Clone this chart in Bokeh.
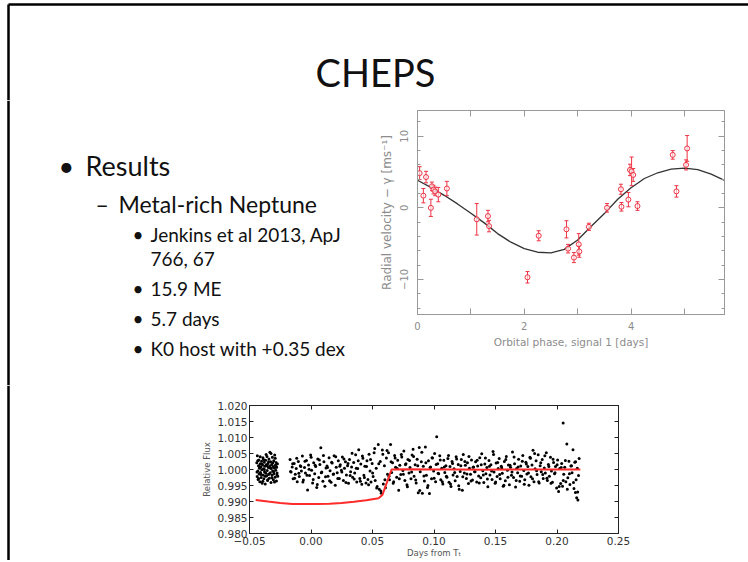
from bokeh.plotting import figure
from bokeh.layouts import column, row
from bokeh.models import Range1d, FixedTicker, LinearAxis, PrintfTickFormatter
from bokeh.core.properties import value
from bokeh.embed import file_html
from bokeh.resources import INLINE

# ---------------- slide text ----------------
slide_title = "CHEPS"
level1 = ["Results"]
level2 = ["Metal-rich Neptune"]
level3 = ["Jenkins et al 2013, ApJ", "766, 67", "15.9 ME", "5.7 days", "K0 host with +0.35 dex"]
level3_bullet = [True, False, True, True, True]

# ---------------- radial velocity data ----------------
rv_phase = [0.04, 0.16, 0.11, 0.25, 0.27, 0.30, 0.33, 0.39, 0.55, 1.11, 1.32, 1.34, 2.06, 2.27, 2.79, 2.82,
            2.93, 3.02, 3.03, 3.21, 3.55, 3.81, 3.82, 3.95, 3.98, 4.01, 4.04, 4.12, 4.78, 4.85, 5.03, 5.05]
rv_vel = [4.85, 4.3, 1.7, 0.0, 3.0, 2.55, 2.3, 1.85, 2.7, -1.6, -1.15, -2.55, -9.7, -3.9, -3.0, -5.7,
          -6.95, -5.1, -6.1, -2.65, 0.0, 2.6, 0.15, 1.15, 5.3, 5.1, 4.6, 0.25, 7.4, 2.3, 6.0, 8.3]
rv_err = [0.9, 0.8, 1.0, 1.2, 0.6, 0.6, 0.6, 1.0, 1.0, 2.2, 0.8, 0.8, 0.8, 0.7, 1.2, 0.6,
          0.7, 1.5, 0.8, 0.5, 0.6, 0.7, 0.6, 1.0, 0.8, 2.0, 0.9, 0.6, 0.6, 0.8, 0.7, 1.8]
model_phase = [0, 0.25, 0.5, 0.75, 1.0, 1.25, 1.5, 1.75, 2.0, 2.25, 2.5, 2.75, 3.0, 3.25, 3.5, 3.75,
               4.0, 4.25, 4.5, 4.75, 5.0, 5.25, 5.5, 5.75]
model_vel = [3.85, 2.85, 1.75, 0.55, -0.75, -2.1, -3.6, -4.8, -5.7, -6.2, -6.3, -5.8, -4.5, -2.6, -0.8, 1.2,
             2.8, 4.1, 4.9, 5.4, 5.55, 5.35, 4.7, 3.85]
rv_xticks = [0, 1, 2, 3, 4, 5]
rv_xlabels = {0: "0", 1: "", 2: "2", 3: "", 4: "4", 5: ""}
rv_yticks = [-10, 0, 10]
rv_yminor = [-14, -12, -8, -6, -4, -2, 2, 4, 6, 8, 12]

# ---------------- light curve data ----------------
lc_days = [
    -0.0441, -0.0438, -0.0436, -0.0432, -0.0430, -0.0427, -0.0424, -0.0422, -0.0419, -0.0416, -0.0413, -0.0411,
    -0.0408, -0.0405, -0.0402, -0.0400, -0.0397, -0.0394, -0.0391, -0.0389, -0.0386, -0.0383, -0.0380, -0.0378,
    -0.0375, -0.0372, -0.0369, -0.0367, -0.0364, -0.0361, -0.0358, -0.0356, -0.0353, -0.0350, -0.0347, -0.0345,
    -0.0342, -0.0339, -0.0336, -0.0334, -0.0331, -0.0328, -0.0325, -0.0323, -0.0320, -0.0317, -0.0314, -0.0312,
    -0.0309, -0.0306, -0.0303, -0.0301, -0.0298, -0.0295, -0.0292, -0.0290, -0.0287, -0.0284, -0.0281, -0.0279,
    -0.0276, -0.0273, -0.0270,
    -0.0170, -0.0162, -0.0153, -0.0145, -0.0137, -0.0128, -0.0120, -0.0112, -0.0103, -0.0095, -0.0087, -0.0078,
    -0.0070, -0.0062, -0.0053, -0.0045, -0.0037, -0.0028, -0.0020, -0.0012, -0.0003, 0.0005, 0.0013, 0.0022,
    0.0030, 0.0038, 0.0047, 0.0055, 0.0063, 0.0072, 0.0080, 0.0088, 0.0097, 0.0105, 0.0113, 0.0122,
    0.0130, 0.0138, 0.0147, 0.0155, 0.0163, 0.0172, 0.0180, 0.0188, 0.0197, 0.0205, 0.0213, 0.0222,
    0.0230, 0.0238, 0.0247, 0.0255, 0.0263, 0.0272, 0.0280, 0.0288, 0.0297, 0.0305, 0.0313, 0.0322,
    0.0330, 0.0338, 0.0347, 0.0355, 0.0363, 0.0372, 0.0380, 0.0388, 0.0397, 0.0405, 0.0413, 0.0422,
    0.0430, 0.0438, 0.0447, 0.0455, 0.0463, 0.0472, 0.0480, 0.0488, 0.0497, 0.0505, 0.0513, 0.0522,
    0.0530, 0.0538, 0.0547, 0.0555, 0.0563, 0.0572, 0.0580, 0.0588, 0.0597, 0.0605, 0.0613, 0.0622,
    0.0630, 0.0638, 0.0647, 0.0655, 0.0663, 0.0672, 0.0680, 0.0688, 0.0697, 0.0705, 0.0713, 0.0722,
    0.0730, 0.0738, 0.0747, 0.0755, 0.0763, 0.0772, 0.0780, 0.0788, 0.0797, 0.0805, 0.0813, 0.0822,
    0.0830, 0.0838, 0.0847, 0.0855, 0.0863, 0.0872, 0.0880, 0.0888, 0.0897, 0.0905, 0.0913, 0.0922,
    0.0930, 0.0938, 0.0947, 0.0955, 0.0963, 0.0972, 0.0980, 0.0988, 0.0997, 0.1005, 0.1013, 0.1022,
    0.1030, 0.1038, 0.1047, 0.1055, 0.1063, 0.1072, 0.1080, 0.1088, 0.1097, 0.1105, 0.1113, 0.1122,
    0.1130, 0.1138, 0.1147, 0.1155, 0.1163, 0.1172, 0.1180, 0.1188, 0.1197, 0.1205, 0.1213, 0.1222,
    0.1230, 0.1238, 0.1247, 0.1255, 0.1263, 0.1272, 0.1280, 0.1288, 0.1297, 0.1305, 0.1313, 0.1322,
    0.1330, 0.1338, 0.1347, 0.1355, 0.1363, 0.1372, 0.1380, 0.1388, 0.1397, 0.1405, 0.1413, 0.1422,
    0.1430, 0.1438, 0.1447, 0.1455, 0.1463, 0.1472, 0.1480, 0.1488, 0.1497, 0.1505, 0.1513, 0.1522,
    0.1530, 0.1538, 0.1547, 0.1555, 0.1563, 0.1572, 0.1580, 0.1588, 0.1597, 0.1605, 0.1613, 0.1622,
    0.1630, 0.1638, 0.1647, 0.1655, 0.1663, 0.1672, 0.1680, 0.1688, 0.1697, 0.1705, 0.1713, 0.1722,
    0.1730, 0.1738, 0.1747, 0.1755, 0.1763, 0.1772, 0.1780, 0.1788, 0.1797, 0.1805, 0.1813, 0.1822,
    0.1830, 0.1838, 0.1847, 0.1855, 0.1863, 0.1872, 0.1880, 0.1888, 0.1897, 0.1905, 0.1913, 0.1922,
    0.1930, 0.1938, 0.1947, 0.1955, 0.1963, 0.1972, 0.1980, 0.1988, 0.1997, 0.2005, 0.2013, 0.2022,
    0.2030, 0.2038, 0.2045, 0.2050, 0.2055, 0.2063, 0.2072, 0.2080, 0.2088, 0.2097, 0.2105, 0.2113,
    0.2122, 0.2130, 0.2138, 0.2145, 0.2150, 0.2155, 0.2160, 0.2165, 0.2170, 0.2175, 0.2180,
]
lc_flux = [
    1.0021, 0.9978, 1.0043, 0.9995, 0.9969, 1.0012, 1.0030, 0.9986, 1.0004, 0.9962, 1.0018, 0.9991,
    1.0008, 0.9975, 1.0026, 0.9999, 0.9957, 1.0014, 1.0037, 0.9983, 1.0002, 0.9971, 1.0023, 0.9993,
    1.0010, 0.9955, 1.0029, 0.9988, 1.0015, 0.9980, 1.0041, 0.9997, 0.9966, 1.0019, 1.0006, 0.9984,
    1.0033, 0.9973, 1.0011, 1.0054, 0.9990, 1.0024, 0.9959, 1.0003, 1.0016, 0.9982, 1.0038, 0.9995,
    1.0009, 0.9968, 1.0027, 0.9987, 1.0005, 1.0045, 0.9976, 1.0013, 0.9998, 1.0022, 0.9964, 1.0007,
    0.9989, 1.0017, 0.9979,
    1.0031, 0.9992, 1.0008, 0.9971, 1.0019, 0.9985, 1.0003, 0.9962, 1.0025, 0.9978, 1.0012, 0.9995,
    1.0042, 0.9967, 1.0006, 0.9989, 1.0028, 0.9936, 1.0014, 0.9981, 1.0045, 0.9998, 0.9958, 1.0021,
    0.9987, 1.0009, 0.9944, 1.0033, 0.9975, 1.0016, 1.0068, 0.9992, 0.9963, 1.0024, 0.9948, 1.0005,
    1.0011, 0.9979, 1.0037, 0.9996, 0.9960, 1.0020, 0.9985, 1.0043, 0.9951, 1.0007, 0.9990, 1.0027,
    0.9972, 1.0015, 0.9998, 1.0039, 0.9966, 1.0004, 1.0024, 0.9983, 1.0012, 0.9957, 1.0031, 0.9993,
    1.0008, 0.9976, 1.0022, 0.9989, 1.0046, 0.9961, 1.0003, 1.0062, 0.9972, 1.0017, 0.9954, 1.0035,
    0.9982, 1.0010, 0.9958, 1.0027, 0.9969, 1.0048, 0.9995, 0.9961, 1.0019, 0.9978, 1.0052, 0.9966,
    1.0004, 0.9947, 1.0078, 0.9938, 1.0025, 0.9926, 1.0061, 0.9955, 1.0012, 0.9943, 1.0036, 0.9985,
    1.0052, 0.9968, 1.0078, 0.9991, 1.0021, 0.9962, 1.0044, 1.0007, 0.9976, 1.0029, 0.9935, 1.0013,
    0.9984, 1.0039, 0.9997, 1.0058, 0.9966, 1.0018, 0.9952, 1.0031, 0.9989, 1.0006, 0.9971, 1.0045,
    1.0063, 0.9979, 1.0015, 0.9958, 1.0032, 0.9927, 1.0069, 0.9993, 1.0024, 0.9926, 1.0010, 0.9964,
    1.0070, 0.9982, 0.9944, 1.0027, 0.9925, 1.0008, 0.9971, 1.0036, 0.9995, 1.0050, 0.9962, 1.0102,
    1.0018, 0.9987, 1.0043, 0.9968, 1.0004, 0.9955, 1.0029, 0.9991, 1.0012, 0.9976, 1.0034, 0.9960,
    1.0009, 0.9947, 1.0025, 0.9983, 1.0002, 0.9965, 1.0040, 0.9978, 1.0016, 0.9938, 0.9994, 1.0031,
    0.9935, 1.0047, 0.9989, 1.0013, 0.9972, 1.0021, 0.9956, 1.0004, 0.9985, 1.0030, 0.9967, 1.0008,
    0.9993, 1.0024, 0.9961, 1.0011, 0.9980, 1.0037, 0.9974, 1.0049, 0.9996, 0.9959, 1.0017, 0.9987,
    1.0006, 0.9946, 1.0028, 0.9983, 1.0015, 0.9969, 1.0056, 0.9992, 0.9957, 1.0020, 0.9978, 1.0003,
    1.0034, 0.9971, 1.0010, 0.9988, 0.9948, 1.0025, 0.9965, 1.0041, 0.9998, 1.0014, 0.9952, 1.0007,
    0.9982, 1.0055, 0.9975, 1.0018, 0.9945, 1.0003, 0.9990, 1.0032, 0.9963, 1.0011, 0.9979, 1.0044,
    0.9997, 0.9968, 1.0023, 0.9986, 1.0009, 0.9951, 1.0038, 0.9977, 1.0014, 1.0060, 0.9962, 1.0002,
    1.0027, 0.9984, 1.0046, 0.9958, 1.0012, 0.9993, 1.0031, 0.9972, 1.0005, 0.9989, 1.0052, 0.9966,
    1.0016, 0.9979, 1.0038, 0.9995, 0.9960, 1.0022, 0.9987, 1.0009, 0.9942, 1.0030, 0.9931, 1.0003,
    0.9956, 1.0019, 0.9948, 1.0145, 0.9985, 1.0007, 0.9962, 1.0080, 0.9974, 1.0026, 0.9953, 1.0011,
    0.9990, 1.0062, 0.9941, 1.0023, 0.9928, 0.9968, 0.9912, 1.0004, 0.9905, 0.9981, 1.0034,
]
# second pass of the same light curve (interleaved exposures)
lc_days_b = [
    -0.0439, -0.0433, -0.0426, -0.0420, -0.0413, -0.0406, -0.0399, -0.0392, -0.0386, -0.0379, -0.0372, -0.0365,
    -0.0358, -0.0352, -0.0345, -0.0338, -0.0331, -0.0325, -0.0318, -0.0311, -0.0304, -0.0297, -0.0291, -0.0284,
    -0.0277,
    -0.0166, -0.0149, -0.0133, -0.0116, -0.0099, -0.0083, -0.0066, -0.0049, -0.0033, -0.0016, 0.0001, 0.0018,
    0.0034, 0.0051, 0.0068, 0.0084, 0.0101, 0.0118, 0.0134, 0.0151, 0.0168, 0.0184, 0.0201, 0.0218,
    0.0234, 0.0251, 0.0268, 0.0284, 0.0301, 0.0318, 0.0334, 0.0351, 0.0368, 0.0384, 0.0401, 0.0418,
    0.0434, 0.0451, 0.0468, 0.0484, 0.0501, 0.0518, 0.0534, 0.0551, 0.0568, 0.0584, 0.0601, 0.0618,
    0.0634, 0.0651, 0.0668, 0.0684, 0.0701, 0.0718, 0.0734, 0.0751, 0.0768, 0.0784, 0.0801, 0.0818,
    0.0834, 0.0851, 0.0868, 0.0884, 0.0901, 0.0918, 0.0934, 0.0951, 0.0968, 0.0984, 0.1001, 0.1018,
    0.1034, 0.1051, 0.1068, 0.1084, 0.1101, 0.1118, 0.1134, 0.1151, 0.1168, 0.1184, 0.1201, 0.1218,
    0.1234, 0.1251, 0.1268, 0.1284, 0.1301, 0.1318, 0.1334, 0.1351, 0.1368, 0.1384, 0.1401, 0.1418,
    0.1434, 0.1451, 0.1468, 0.1484, 0.1501, 0.1518, 0.1534, 0.1551, 0.1568, 0.1584, 0.1601, 0.1618,
    0.1634, 0.1651, 0.1668, 0.1684, 0.1701, 0.1718, 0.1734, 0.1751, 0.1768, 0.1784, 0.1801, 0.1818,
    0.1834, 0.1851, 0.1868, 0.1884, 0.1901, 0.1918, 0.1934, 0.1951, 0.1968, 0.1984, 0.2001, 0.2018,
    0.2034, 0.2051, 0.2068, 0.2084, 0.2101, 0.2118, 0.2134, 0.2151, 0.2168,
]
lc_flux_b = [
    0.9992, 1.0027, 0.9972, 1.0009, 1.0040, 0.9984, 1.0017, 0.9963, 1.0031, 1.0000, 0.9979, 1.0047,
    1.0012, 0.9968, 1.0024, 0.9987, 1.0005, 1.0050, 0.9974, 1.0020, 0.9993, 0.9961, 1.0035, 1.0008,
    0.9983,
    0.9994, 1.0018, 0.9973, 1.0035, 0.9988, 1.0009, 0.9961, 1.0026, 0.9982, 1.0001, 1.0038, 0.9969,
    1.0013, 0.9953, 1.0030, 0.9990, 1.0044, 0.9977, 1.0006, 0.9965, 1.0023, 0.9986, 1.0040, 0.9972,
    1.0010, 0.9992, 1.0033, 0.9959, 1.0019, 0.9981, 1.0051, 0.9970, 1.0004, 1.0027, 0.9963, 1.0042,
    0.9975, 1.0009, 0.9952, 1.0031, 0.9989, 1.0066, 0.9942, 1.0018, 0.9933, 1.0048, 0.9968, 1.0059,
    0.9979, 1.0024, 0.9957, 1.0036, 1.0003, 0.9971, 1.0047, 0.9985, 1.0015, 0.9946, 1.0028, 0.9992,
    1.0041, 0.9967, 1.0012, 0.9934, 1.0054, 0.9980, 1.0021, 0.9950, 1.0006, 1.0037, 0.9973, 1.0016,
    0.9988, 1.0030, 0.9962, 1.0008, 0.9979, 1.0044, 0.9955, 1.0019, 0.9991, 1.0033, 0.9949, 1.0012,
    0.9977, 1.0025, 0.9986, 1.0041, 0.9964, 1.0007, 0.9993, 1.0029, 0.9958, 1.0015, 0.9983, 1.0036,
    0.9970, 1.0010, 0.9995, 1.0047, 0.9961, 1.0022, 0.9984, 1.0005, 0.9951, 1.0031, 0.9976, 1.0013,
    0.9992, 1.0039, 0.9966, 1.0008, 0.9980, 1.0026, 0.9954, 1.0017, 0.9989, 1.0035, 0.9971, 1.0050,
    0.9996, 0.9962, 1.0021, 0.9984, 1.0043, 0.9973, 1.0009, 0.9957, 1.0032, 0.9990, 1.0015, 0.9947,
    1.0006, 0.9966, 1.0028, 0.9938, 0.9987, 1.0012, 0.9959, 1.0024, 0.9930,
]
model_days = [-0.045, -0.035, -0.025, -0.015, -0.005, 0.005, 0.015, 0.025, 0.035, 0.045, 0.055, 0.058,
              0.0655, 0.08, 0.10, 0.12, 0.14, 0.16, 0.18, 0.20, 0.219]
model_flux = [0.9905, 0.9900, 0.98955, 0.98925, 0.9892, 0.9892, 0.9893, 0.98955, 0.9899, 0.9904, 0.9910, 0.9920,
              1.0000, 1.0001, 1.0000, 1.0000, 0.9999, 1.0000, 1.0000, 1.0000, 1.0000]
lc_xticks = [-0.05, 0.0, 0.05, 0.1, 0.15, 0.2, 0.25]
lc_xlabels = {-0.05: "\u22120.05"}
lc_yticks = [0.98, 0.985, 0.99, 0.995, 1.0, 1.005, 1.01, 1.015, 1.02]

RED = "#ee3344"
FONT = "Lato"
TOP_H = 100      # title band height
MID_H = 285      # bullets + RV band height
LOW_H = 175      # light-curve band height


def no_align(f):
    try:
        f.frame_align = False
    except Exception:
        pass
    return f


def blank(w, h, x0, y0):
    f = figure(width=w, height=h, x_range=Range1d(x0, x0 + w), y_range=Range1d(y0 + h, y0),
               min_border=0, min_border_top=0, min_border_bottom=0, min_border_left=0,
               min_border_right=0, toolbar_location=None, output_backend="svg", title=None,
               x_axis_type=None, y_axis_type=None, outline_line_color=None)
    return no_align(f)


def slide_text(f, x, y, s, size):
    f.text(x=[x], y=[y], text=[s], text_font=value(FONT), text_font_size=value(size),
           text_align="left", text_baseline="alphabetic", text_color="#111111")


# ---------- row A : title ----------
fa = blank(748, TOP_H, 0, 0)
fa.line([8, 748], [4, 4], line_color="black", line_width=2.5)
fa.line([8, 8], [4, TOP_H], line_color="black", line_width=2.5)
fa.text(x=[375], y=[71], text=[slide_title], text_font=value(FONT), text_font_size=value("38px"),
        text_align="center", text_baseline="middle", text_color="#111111")

# ---------- row B : bullets + RV plot ----------
fb = blank(370, MID_H, 0, TOP_H)
fb.line([8, 8], [TOP_H, TOP_H + MID_H], line_color="black", line_width=2.5)
slide_text(fb, 58, 165, "\u2022", "27px")
slide_text(fb, 85, 165, level1[0], "27px")
slide_text(fb, 95, 203, "\u2013", "23px")
slide_text(fb, 118, 203, level2[0], "23px")
ys3 = [234, 258, 288, 318, 348]
for txt, yy, has_b in zip(level3, ys3, level3_bullet):
    if has_b:
        slide_text(fb, 132, yy, "\u2022", "19px")
    slide_text(fb, 150, yy, txt, "19px")

rv = figure(width=378, height=MID_H, x_range=Range1d(0, 5.75), y_range=Range1d(-14.9, 13.6),
            min_border_left=47, min_border_right=24, min_border_top=110 - TOP_H,
            min_border_bottom=TOP_H + MID_H - 314,
            toolbar_location=None, output_backend="svg", title=None)
no_align(rv)
rv.grid.visible = False
rv.outline_line_color = "#999999"
GRAY = "#8c8c8c"
for ax in rv.xaxis:
    ax.ticker = FixedTicker(ticks=rv_xticks, minor_ticks=[])
    ax.major_label_overrides = rv_xlabels
    ax.axis_label = "Orbital phase, signal 1 [days]"
    ax.axis_label_text_font_size = "10.5px"
for ax in rv.yaxis:
    ax.ticker = FixedTicker(ticks=rv_yticks, minor_ticks=rv_yminor)
    ax.major_label_orientation = "vertical"
    ax.axis_label = "Radial velocity \u2212 \u03b3 [ms\u207b\u00b9]"
    ax.axis_label_text_font_size = "12px"
for ax in list(rv.xaxis) + list(rv.yaxis):
    ax.axis_line_color = "#999999"
    ax.major_tick_line_color = "#999999"
    ax.minor_tick_line_color = "#999999"
    ax.major_tick_in = 6
    ax.major_tick_out = 0
    ax.minor_tick_in = 3
    ax.minor_tick_out = 0
    ax.major_label_text_color = GRAY
    ax.major_label_text_font = "DejaVu Sans"
    ax.major_label_text_font_size = "10px"
    ax.axis_label_text_color = GRAY
    ax.axis_label_text_font = "DejaVu Sans"
    ax.axis_label_text_font_style = "normal"
rv.xaxis.major_label_standoff = 7
rv.xaxis.axis_label_standoff = 3
rv.yaxis.major_label_standoff = 9
rv.yaxis.axis_label_standoff = 4
for side, tk, labs in (("above", FixedTicker(ticks=rv_xticks, minor_ticks=[]), rv_xticks),
                       ("right", FixedTicker(ticks=rv_yticks, minor_ticks=rv_yminor), rv_yticks)):
    ax = LinearAxis(ticker=tk, major_label_overrides={t: "" for t in labs}, major_label_standoff=0,
                    axis_line_color="#999999", major_tick_line_color="#999999",
                    minor_tick_line_color="#999999", major_tick_in=6, major_tick_out=0,
                    minor_tick_in=3, minor_tick_out=0, major_label_text_font_size="8px")
    rv.add_layout(ax, side)

rv.line(model_phase, model_vel, line_color="#333333", line_width=1.3)
lo = [v - e for v, e in zip(rv_vel, rv_err)]
hi = [v + e for v, e in zip(rv_vel, rv_err)]
rv.segment(x0=rv_phase, y0=lo, x1=rv_phase, y1=hi, line_color=RED, line_width=1)
rv.scatter(rv_phase, lo, marker="dash", size=4, line_color=RED)
rv.scatter(rv_phase, hi, marker="dash", size=4, line_color=RED)
rv.scatter(rv_phase, rv_vel, marker="circle", size=5, fill_color="white", fill_alpha=0.6,
           line_color=RED, line_width=1)

# ---------- row C : light curve ----------
Y0C = TOP_H + MID_H
fcl = blank(150, LOW_H, 0, Y0C)
fcl.line([8, 8], [Y0C, Y0C + LOW_H], line_color="black", line_width=2.5)
fcr = blank(88, LOW_H, 660, Y0C)
fcr.line([650, 748], [470, 470], line_alpha=0)

lc = figure(width=510, height=LOW_H, x_range=Range1d(-0.05, 0.25), y_range=Range1d(0.98, 1.02),
            min_border_left=99, min_border_right=42, min_border_top=405 - Y0C,
            min_border_bottom=Y0C + LOW_H - 534,
            toolbar_location=None, output_backend="svg", title=None)
no_align(lc)
lc.grid.visible = False
lc.outline_line_color = "#222222"
DARK = "#333333"
for ax in lc.xaxis:
    ax.ticker = FixedTicker(ticks=lc_xticks, minor_ticks=[])
    ax.formatter = PrintfTickFormatter(format="%.2f")
    ax.major_label_overrides = lc_xlabels
    ax.axis_label = "Days from T\u209c"
    ax.major_label_standoff = 3
    ax.axis_label_standoff = 0
for ax in lc.yaxis:
    ax.ticker = FixedTicker(ticks=lc_yticks, minor_ticks=[])
    ax.formatter = PrintfTickFormatter(format="%.3f")
    ax.axis_label = "Relative Flux"
    ax.major_label_standoff = 2
    ax.axis_label_standoff = 2
for ax in list(lc.xaxis) + list(lc.yaxis):
    ax.axis_line_color = "#222222"
    ax.major_tick_line_color = "#222222"
    ax.major_tick_in = 4
    ax.major_tick_out = 0
    ax.minor_tick_line_color = None
    ax.major_label_text_color = DARK
    ax.major_label_text_font = "DejaVu Sans"
    ax.major_label_text_font_size = "10.5px"
    ax.axis_label_text_color = "#555555"
    ax.axis_label_text_font = "DejaVu Sans"
    ax.axis_label_text_font_size = "8.5px"
    ax.axis_label_text_font_style = "normal"
for side, tk, labs in (("above", FixedTicker(ticks=lc_xticks, minor_ticks=[]), lc_xticks),
                       ("right", FixedTicker(ticks=lc_yticks, minor_ticks=[]), lc_yticks)):
    ax = LinearAxis(ticker=tk, major_label_overrides={t: "" for t in labs}, major_label_standoff=0,
                    axis_line_color="#222222", major_tick_line_color="#222222",
                    minor_tick_line_color=None, major_tick_in=4, major_tick_out=0,
                    major_label_text_font_size="8px")
    lc.add_layout(ax, side)

n = min(len(lc_days), len(lc_flux))
m = min(len(lc_days_b), len(lc_flux_b))
all_days = lc_days[:n] + lc_days_b[:m]
all_flux = lc_flux[:n] + lc_flux_b[:m]
lc.scatter(all_days, all_flux, marker="circle", size=3, fill_color="black", line_color=None)
lc.line(model_days, model_flux, line_color="#ff2a2a", line_width=2)

# ---------- row D : bottom edge ----------
Y0D = Y0C + LOW_H
fd = blank(748, 562 - Y0D, 0, Y0D)
fd.background_fill_color = "#9a9a9a"
fd.border_fill_color = "#9a9a9a"
fd.line([0, 748], [Y0D + 1, Y0D + 1], line_color="#9a9a9a")

layout = column(fa, row(fb, rv), row(fcl, lc, fcr), fd)
open("out.html", "w").write(file_html(layout, INLINE))
